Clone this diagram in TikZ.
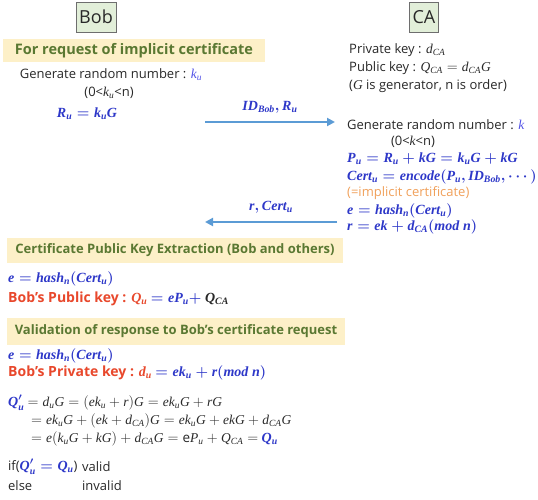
\documentclass[tikz,border=0pt]{standalone}
\usepackage{amsmath}
\usepackage{fontspec}
\setmainfont{Open Sans}
\newfontfamily\lserif[NFSSFamily=lsr]{Liberation Serif}
\DeclareMathAlphabet{\mathbi}{TU}{lsr}{m}{it}
\SetMathAlphabet{\mathbi}{bold}{TU}{lsr}{b}{it}
\usetikzlibrary{arrows.meta}

\definecolor{mblue}{RGB}{45,55,200}
\definecolor{kblue}{RGB}{80,80,230}
\definecolor{redT}{RGB}{232,72,44}
\definecolor{orangeT}{RGB}{240,160,90}
\definecolor{bandtext}{RGB}{90,120,50}
\definecolor{bandfill}{RGB}{253,240,200}
\definecolor{arrowblue}{RGB}{91,155,213}
\definecolor{boxfill}{RGB}{226,239,217}
\definecolor{boxline}{RGB}{110,110,110}
\definecolor{txtgray}{RGB}{40,40,40}

% formulas in a serif italic
\newcommand{\bmath}[1]{{\fontsize{14}{16}\selectfont\boldmath$\mathbi{#1}$}}
\newcommand{\pmath}[1]{{\fontsize{13.5}{15}\selectfont$\mathbi{#1}$}}

\tikzset{
  party/.style={draw=boxline, fill=boxfill, text=txtgray, font=\fontsize{18}{22}\selectfont, minimum height=30pt, inner xsep=3pt},
  band/.style={fill=bandfill, text=bandtext, font=\bfseries\fontsize{13}{16}\selectfont, inner sep=0pt},
  txt/.style={anchor=west, inner sep=0pt, text=txtgray, font=\fontsize{13}{16}\selectfont},
  mb/.style={txt, text=mblue},
  keyline/.style={txt, text=redT, font=\bfseries\fontsize{14}{16}\selectfont},
  msg/.style={draw=arrowblue, line width=2pt, -{Triangle[length=8pt,width=8pt]}}
}

\begin{document}
\begin{tikzpicture}[x=1pt,y=-1pt]
\useasboundingbox (0,0) rectangle (538,500);
% the two parties
\node[party] (bob) at (96,17) {Bob};
\node[party] (ca) at (424,17) {CA};

% Bob: request
\node[band, minimum width=262, minimum height=23, font=\bfseries\fontsize{14.5}{16}\selectfont] (reqband) at (134,50.5) {For request of implicit certificate};
\node[txt, anchor=center] (bobrand) at (111,75) {Generate random number : \textcolor{kblue}{\pmath{k_u}}};
\node[txt, anchor=center] (bobrange) at (109,93) {(0<\pmath{k_u}<n)};
\node[mb, anchor=center] (ru) at (87,114) {\bmath{R_u = k_uG}};

% CA keys and issuing
\node[txt] (capriv) at (349,50) {Private key : \pmath{d_{CA}}};
\node[txt] (capub) at (349,68) {Public key : \pmath{Q_{CA} = d_{CA}G}};
\node[txt] (caorder) at (349,86) {(\pmath{G} is generator, n is order)};
\node[txt] (carand) at (347,125) {Generate random number : \textcolor{kblue}{\pmath{k}}};
\node[txt, anchor=center] (carange) at (413,142) {(0<\pmath{k}<n)};
\node[mb] (pu) at (347,159) {\bmath{P_u = R_u + kG = k_uG + kG}};
\node[mb] (cert) at (347,177) {\bmath{Cert_u = encode(P_u, ID_{Bob}, \cdots)}};
\node[txt, text=orangeT] (implicit) at (347,193) {(=implicit certificate)};
\node[mb] (ehash) at (347,211) {\bmath{e = hash_n(Cert_u)}};
\node[mb] (rcalc) at (347,227) {\bmath{r = ek + d_{CA}(mod\ n)}};

% messages
\coordinate (reqfrom) at (205,122);
\coordinate (reqto) at (335,122);
\draw[msg] (reqfrom) -- (reqto) node[mb, midway, anchor=south, yshift=8pt] (reqlabel) {\bmath{ID_{Bob}, R_u}};
\coordinate (respfrom) at (337,222);
\coordinate (respto) at (205,222);
\draw[msg] (respfrom) -- (respto) node[mb, midway, anchor=south, yshift=8pt] (resplabel) {\bmath{r, Cert_u}};

% extraction
\node[band, minimum width=336, minimum height=25] (extband) at (175,250.5) {Certificate Public Key Extraction (Bob and others)};
\node[mb] (ehash2) at (8,279) {\bmath{e = hash_n(Cert_u)}};
\node[keyline] (bobpub) at (8,299) {Bob's Public key : \bmath{Q_u} \textcolor{mblue}{\bmath{= eP_u +}} \textcolor{txtgray}{\bmath{Q_{CA}}}};

% validation
\node[band, minimum width=338, minimum height=27] (valband) at (176,331.5) {Validation of response to Bob's certificate request};
\node[mb] (ehash3) at (8,356) {\bmath{e = hash_n(Cert_u)}};
\node[keyline] (bobpriv) at (8,373) {Bob's Private key : \bmath{d_u} \textcolor{mblue}{\bmath{= ek_u + r(mod\ n)}}};
\node[txt] (derive1) at (8,403) {\textcolor{mblue}{\bmath{Q'_u}} \pmath{= d_uG = (ek_u + r)G = ek_uG + rG}};
\node[txt] (derive2) at (31,421) {\pmath{= ek_uG + (ek + d_{CA})G = ek_uG + ekG + d_{CA}G}};
\node[txt] (derive3) at (31,439) {\pmath{= e(k_uG + kG) + d_{CA}G = \mathrm{e}P_u + Q_{CA} =} \textcolor{mblue}{\bmath{Q_u}}};
\node[txt] (ifline) at (8,467) {if(\textcolor{mblue}{\bmath{Q'_u = Q_u}})};
\node[txt] (valid) at (82,467) {valid};
\node[txt] (elseline) at (8,486) {else};
\node[txt] (invalid) at (82,486) {invalid};
\end{tikzpicture}
\end{document}
